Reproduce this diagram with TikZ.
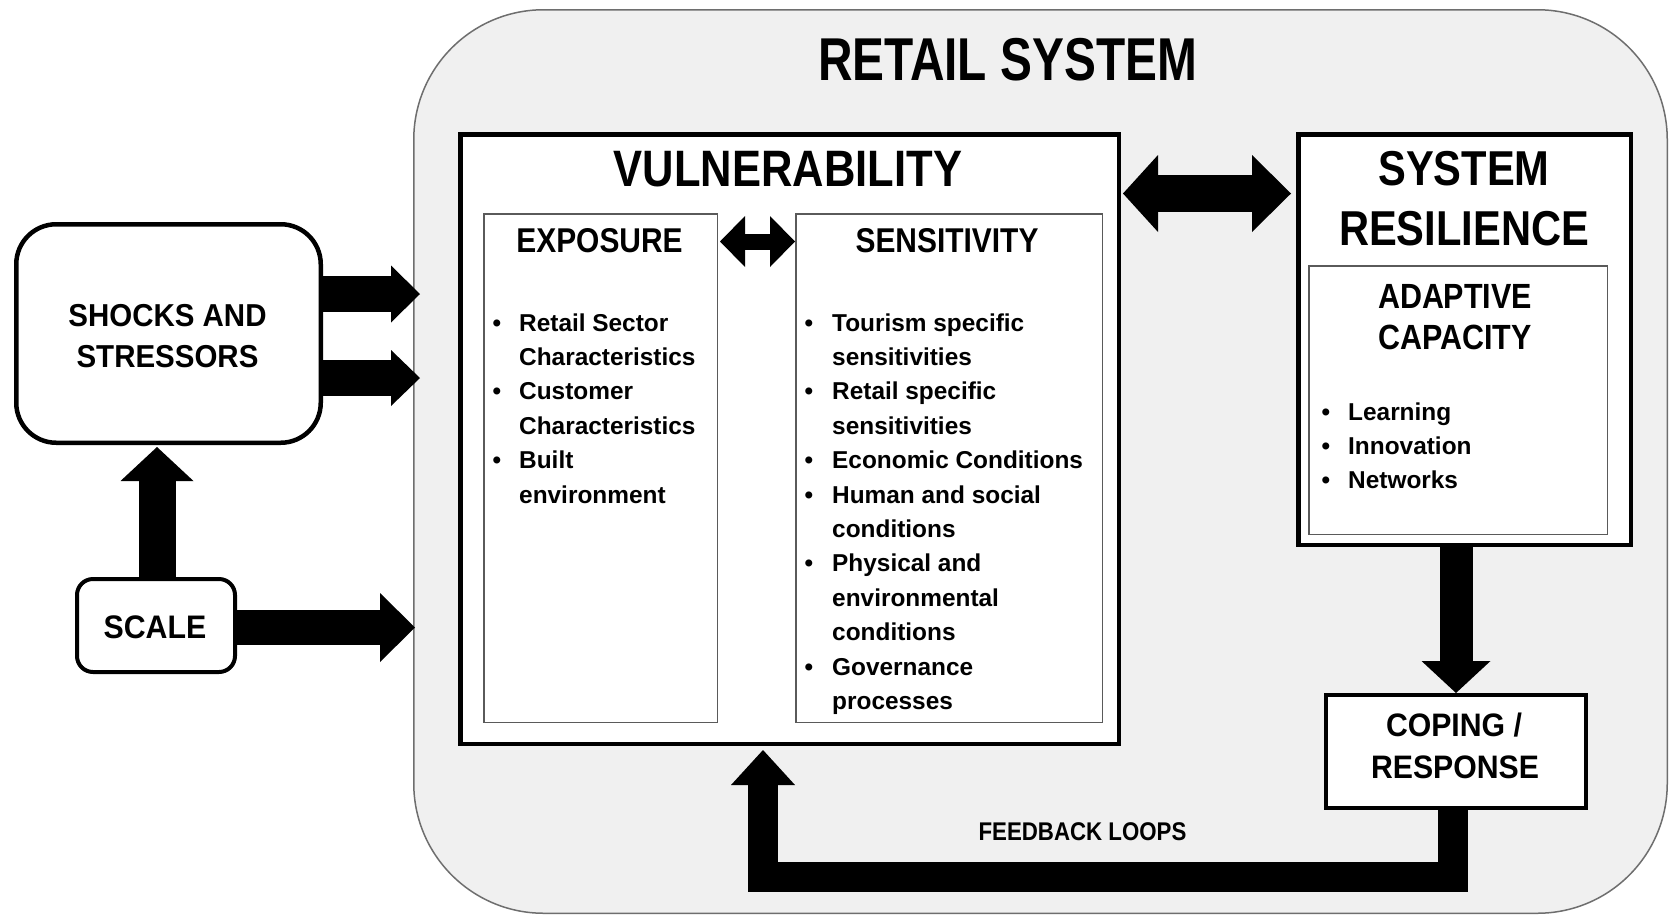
\documentclass[tikz,border=0pt]{standalone}
\usepackage{fontspec}
\setmainfont{Liberation Sans}
\newfontfamily\fntA{Liberation Sans}[FakeStretch=0.79]
\newfontfamily\fntB{Liberation Sans}[FakeStretch=0.85]
\newfontfamily\fntC{Liberation Sans}[FakeStretch=0.87]
\newfontfamily\fntD{Liberation Sans}[FakeStretch=0.93]
\usetikzlibrary{arrows.meta,calc}
\definecolor{retailbg}{RGB}{240,240,240}
\definecolor{retailbd}{RGB}{110,110,110}
\definecolor{thinbd}{RGB}{90,90,90}
\begin{document}
\begin{tikzpicture}[x=1pt,y=-1pt,
  thickbox/.style={draw=black, line width=4.5pt, fill=white, inner sep=0pt},
  thinbox/.style={draw=thinbd, line width=1.5pt, fill=white, inner sep=0pt},
  lbl/.style={inner sep=0pt, anchor=base},
  body/.style={inner sep=0pt, anchor=base west, font=\bfseries\fontsize{24.4}{24.4}\selectfont},
  bul/.style={inner sep=0pt, anchor=base, font=\bfseries\fontsize{24.4}{24.4}\selectfont},
  tipA/.style={-{Triangle[length=#1,width=2*#1,line width=0pt]}},
]
\useasboundingbox (0,0) rectangle (1671,919);
\fill[white] (0,0) rectangle (1671,919);

% retail system
\node[draw=retailbd, line width=1.5pt, fill=retailbg, rounded corners=130pt,
      minimum width=1253.5pt, minimum height=903.5pt, inner sep=0pt] (retail) at (1040.5,461.5) {};
\node[lbl, font=\fntA\bfseries\fontsize{60.5}{60.5}\selectfont] (ttl) at (1007.5,80) {RETAIL SYSTEM};

% left boxes
\node[thickbox, rounded corners=40pt, minimum width=304.5pt, minimum height=218.5pt] (shocks) at (168.5,333.5) {};
\node[lbl, font=\fntD\bfseries\fontsize{31.7}{31.7}\selectfont] (sh1) at (167.5,326) {SHOCKS AND};
\node[lbl, font=\fntD\bfseries\fontsize{31.7}{31.7}\selectfont] (sh2) at (167.5,367.3) {STRESSORS};
\node[thickbox, line width=4pt, rounded corners=16pt, minimum width=158pt, minimum height=93pt] (scale) at (156,625.5) {};
\node[lbl, font=\fntD\bfseries\fontsize{32.6}{32.6}\selectfont] (sc) at (155,638.3) {SCALE};

% vulnerability
\node[thickbox, minimum width=658.5pt, minimum height=609.5pt] (vuln) at (789.5,439) {};
\node[lbl, font=\fntB\bfseries\fontsize{51.2}{51.2}\selectfont] (vt) at (788,186.7) {VULNERABILITY};
\node[thinbox, minimum width=233.5pt, minimum height=508.5pt] (expo) at (600.5,468) {};
\node[thinbox, minimum width=306.5pt, minimum height=508.5pt] (sens) at (949,468) {};
\node[lbl, font=\fntC\bfseries\fontsize{34.4}{34.4}\selectfont] (et) at (599.5,252.6) {EXPOSURE};
\node[lbl, font=\fntC\bfseries\fontsize{34.4}{34.4}\selectfont] (stt) at (947,252.6) {SENSITIVITY};

\foreach \t [count=\i from 0] in {Retail Sector, Characteristics, Customer, Characteristics, Built, environment}
  \node[body] (ex\i) at (519,{331+34.4*\i}) {\t};
\foreach \k in {0,2,4}
  \node[bul] (exb\k) at (497,{331+34.4*\k}) {\textbullet};
\foreach \t [count=\i from 0] in {Tourism specific, sensitivities, Retail specific, sensitivities, Economic Conditions, Human and social, conditions, Physical and, environmental, conditions, Governance, processes}
  \node[body] (se\i) at (832,{331+34.4*\i}) {\t};
\foreach \k in {0,2,4,5,7,10}
  \node[bul] (seb\k) at (809,{331+34.4*\k}) {\textbullet};

% resilience
\node[thickbox, minimum width=332.5pt, minimum height=410.5pt] (res) at (1464.5,339.5) {};
\node[lbl, font=\fntB\bfseries\fontsize{49}{49}\selectfont] (rt1) at (1464,185.5) {SYSTEM};
\node[lbl, font=\fntB\bfseries\fontsize{49}{49}\selectfont] (rt2) at (1464,245) {RESILIENCE};
\node[thinbox, minimum width=298.5pt, minimum height=268.5pt] (adapt) at (1458,400) {};
\node[lbl, font=\fntC\bfseries\fontsize{35}{35}\selectfont] (at1) at (1455,308.3) {ADAPTIVE};
\node[lbl, font=\fntC\bfseries\fontsize{35}{35}\selectfont] (at2) at (1455,349.3) {CAPACITY};
\foreach \t [count=\i from 0] in {Learning, Innovation, Networks} {
  \node[body] (ad\i) at (1348,{420+34.4*\i}) {\t};
  \node[bul] (adb\i) at (1326,{420+34.4*\i}) {\textbullet};
}

% coping
\node[thickbox, line width=4pt, minimum width=260pt, minimum height=113pt] (coping) at (1456,751.5) {};
\node[lbl, font=\fntD\bfseries\fontsize{32.5}{32.5}\selectfont] (cp1) at (1454,736) {COPING /};
\node[lbl, font=\fntD\bfseries\fontsize{32.5}{32.5}\selectfont] (cp2) at (1455,778) {RESPONSE};
\node[lbl, font=\fntC\bfseries\fontsize{25.6}{25.6}\selectfont] (fb) at (1082.5,840) {FEEDBACK LOOPS};

% helper coordinates
\coordinate (ya) at (0,294);
\coordinate (yb) at (0,378);
\coordinate (yc) at (0,627.5);
\coordinate (yd) at (0,193.5);
\coordinate (ye) at (0,241.5);
\coordinate (xs) at (157,0);
\coordinate (fbR) at (1453,876.5);
\coordinate (fbL) at (763,876.5);

% connectors
\draw[line width=36pt,-{Triangle[length=29pt,width=57pt,line width=0pt]}]
  (shocks.east |- ya) -- ($(retail.west |- ya)+(7,0)$);
\draw[line width=36pt,-{Triangle[length=29pt,width=56pt,line width=0pt]}]
  (shocks.east |- yb) -- ($(retail.west |- yb)+(7,0)$);
\draw[line width=35pt,-{Triangle[length=35pt,width=69pt,line width=0pt]}]
  (scale.east |- yc) -- ($(retail.west |- yc)+(2,0)$);
\draw[line width=37pt,-{Triangle[length=34pt,width=73pt,line width=0pt]}]
  (scale.north -| xs) -- ($(shocks.south -| xs)+(0,2)$);
\draw[line width=37pt,{Triangle[length=35pt,width=77pt,line width=0pt]}-{Triangle[length=39pt,width=77pt,line width=0pt]}]
  ($(vuln.east |- yd)+(2,0)$) -- ($(res.west |- yd)+(-5,0)$);
\draw[line width=16pt,{Triangle[length=25pt,width=51pt,line width=0pt]}-{Triangle[length=25pt,width=51pt,line width=0pt]}]
  ($(expo.east |- ye)+(2,0)$) -- (sens.west |- ye);
\draw[line width=33pt,-{Triangle[length=32pt,width=69pt,line width=0pt]}]
  (res.south -| coping.north) -- (coping.north);
\draw[line width=30pt,line join=miter,-{Triangle[length=35pt,width=64pt,line width=0pt]}]
  (coping.south -| fbR) -- (fbR) -- (fbL) -- ($(fbL |- vuln.south)+(0,4)$);
\end{tikzpicture}
\end{document}
